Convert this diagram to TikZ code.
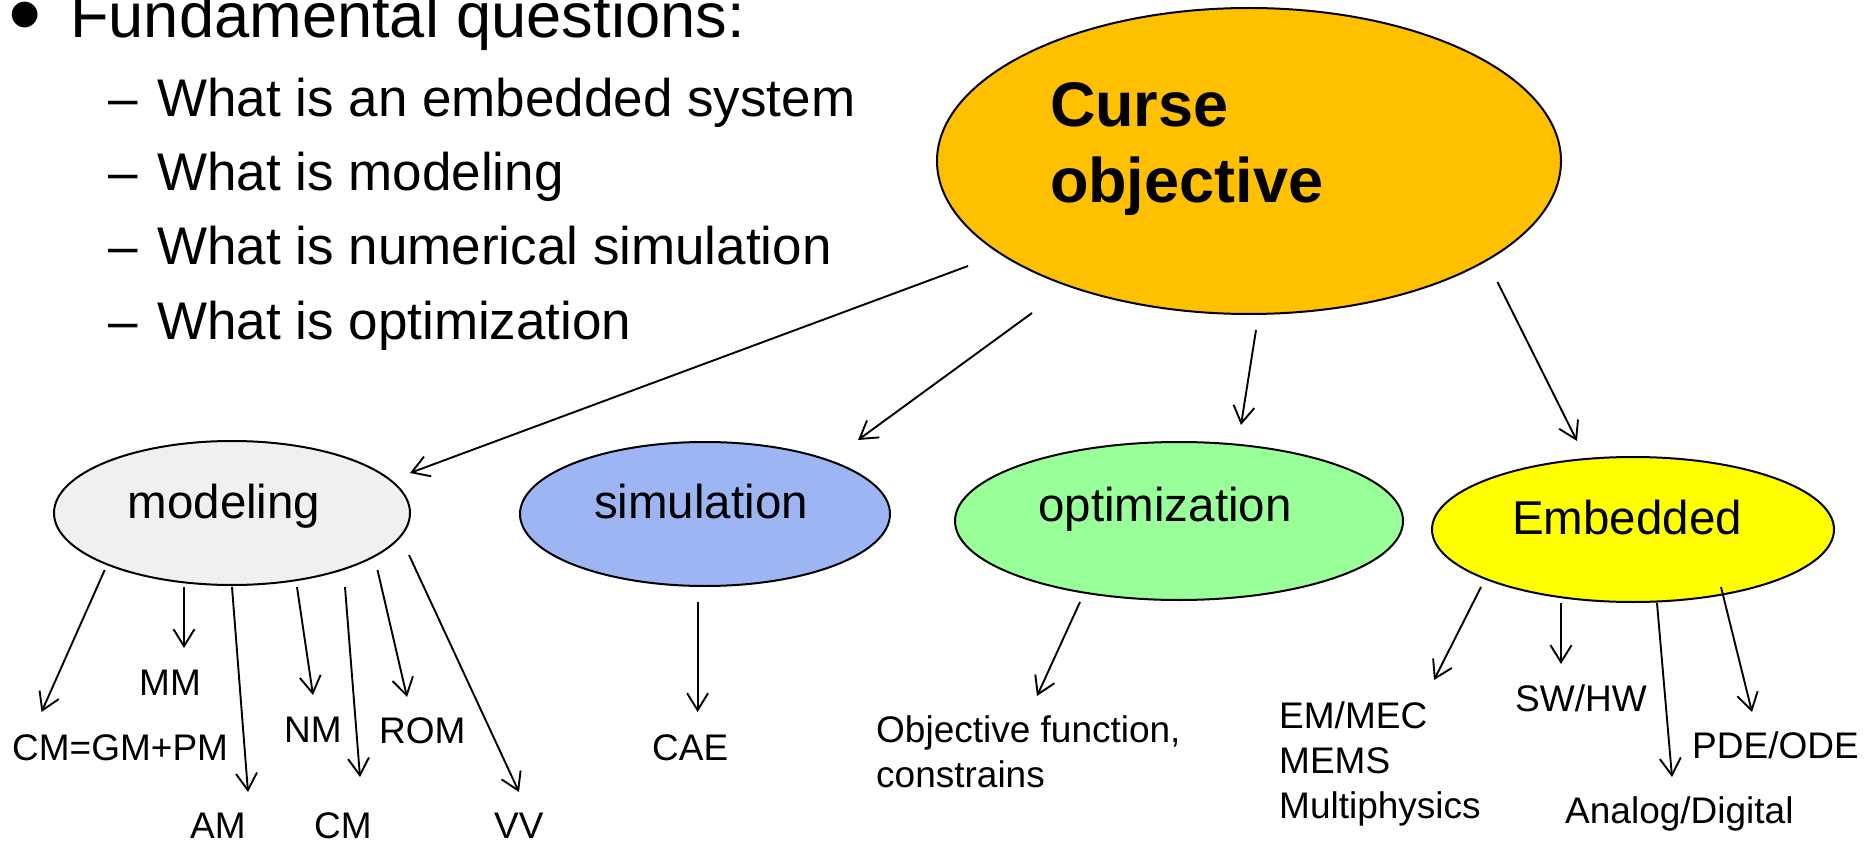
\documentclass[tikz,border=0pt]{standalone}
\usepackage{fontspec}
\setmainfont{Liberation Sans}
\usetikzlibrary{arrows.meta,shapes.geometric}
\definecolor{cOrange}{HTML}{FFC000}
\definecolor{cGray}{HTML}{F0F0F0}
\definecolor{cBlue}{HTML}{9DB5F2}
\definecolor{cGreen}{HTML}{99FF99}
\definecolor{cYellow}{HTML}{FFFF00}
\begin{document}
\begin{tikzpicture}[x=1pt,y=-1pt,
  ell/.style={ellipse, draw=black, line width=2pt, inner sep=0pt, outer sep=0pt,
              font=\fontsize{47.5}{57}\selectfont},
  lbl/.style={font=\fontsize{37}{45}\selectfont, inner sep=0pt, anchor=base west},
  bigtxt/.style={font=\fontsize{63.2}{76}\selectfont, inner sep=0pt, anchor=base west},
  subtxt/.style={font=\fontsize{53}{64}\selectfont, inner sep=0pt, anchor=base west},
  arr/.style={line width=1.9pt, -{Straight Barb[length=17pt,width=21pt]}}]
\useasboundingbox (0,0) rectangle (1866,842);

% bullet list
\node[bigtxt, font=\fontsize{95}{100}\selectfont] (bul) at (8,47) {•};
\node[bigtxt] (fq) at (70,38) {Fundamental questions:};
\node[subtxt] (d1) at (108,117) {–};
\node[subtxt] (q1) at (157,117) {What is an embedded system};
\node[subtxt] (d2) at (108,191) {–};
\node[subtxt] (q2) at (157,191) {What is modeling};
\node[subtxt] (d3) at (108,265) {–};
\node[subtxt] (q3) at (157,265) {What is numerical simulation};
\node[subtxt] (d4) at (108,340) {–};
\node[subtxt] (q4) at (157,340) {What is optimization};

% main ellipse
\node[ell, fill=cOrange, minimum width=624pt, minimum height=306pt,
      font=\bfseries\fontsize{63}{76}\selectfont,
      text height=53.2pt, text depth=121.2pt] (co) at (1249,161)
  {\makebox[398pt][l]{\begin{tabular}[t]{@{}l@{}}Curse\\objective\end{tabular}}};

% second level ellipses
\node[ell, fill=cGray, minimum width=356pt, minimum height=144pt,
      text height=25pt, text depth=15pt] (mod) at (232,513)
  {\makebox[0pt]{\hspace{-16pt}modeling}};
\node[ell, fill=cBlue, minimum width=370pt, minimum height=144pt,
      text height=24pt, text depth=16pt] (sim) at (705,514)
  {\makebox[0pt]{\hspace{-8pt}simulation}};
\node[ell, fill=cGreen, minimum width=448pt, minimum height=158pt,
      text height=20pt, text depth=20pt] (opt) at (1179,521)
  {\makebox[0pt]{\hspace{-28pt}optimization}};
\node[ell, fill=cYellow, minimum width=402pt, minimum height=145pt,
      text height=24.5pt, text depth=15.5pt] (emb) at (1633,529.5)
  {\makebox[0pt]{\hspace{-12pt}Embedded}};

% leaf labels
\node[lbl] (cgp) at (12,760) {CM=GM+PM};
\node[lbl] (mm) at (139,695) {MM};
\node[lbl] (am) at (190,838) {AM};
\node[lbl] (nm) at (284,742) {NM};
\node[lbl] (cm) at (314,838) {CM};
\node[lbl] (rom) at (379,743) {ROM};
\node[lbl] (vv) at (494,838) {VV};
\node[lbl] (cae) at (652,760) {CAE};
\node[lbl] (obj) at (876,742) {\begin{tabular}[t]{@{}l@{}}Objective function,\\constrains\end{tabular}};
\node[lbl] (emm) at (1279,728) {\begin{tabular}[t]{@{}l@{}}EM/MEC\\MEMS\\Multiphysics\end{tabular}};
\node[lbl] (swhw) at (1515,711) {SW/HW};
\node[lbl] (ad) at (1565,823) {Analog/Digital};
\node[lbl] (pde) at (1692,758) {PDE/ODE};

% connector end points
\coordinate (co-mod-s) at (968,266);   \coordinate (co-mod-e) at (410,473);
\coordinate (co-sim-s) at (1032,313);  \coordinate (co-sim-e) at (858,440);
\coordinate (co-opt-s) at (1256,330);  \coordinate (co-opt-e) at (1241,425);
\coordinate (co-emb-s) at (1497.5,282);\coordinate (co-emb-e) at (1577,441);

\coordinate (mod-cgp-s) at (104.7,570); \coordinate (mod-cgp-e) at (41.5,712);
\coordinate (mod-mm-s) at (184,587);    \coordinate (mod-mm-e) at (184,648);
\coordinate (mod-am-s) at (232,587);    \coordinate (mod-am-e) at (248,792);
\coordinate (mod-nm-s) at (297,587);    \coordinate (mod-nm-e) at (313,695);
\coordinate (mod-cm-s) at (345,587);    \coordinate (mod-cm-e) at (360,777);
\coordinate (mod-rom-s) at (377.5,570); \coordinate (mod-rom-e) at (407,697);
\coordinate (mod-vv-s) at (409,555);    \coordinate (mod-vv-e) at (519,792);

\coordinate (sim-cae-s) at (697.6,602); \coordinate (sim-cae-e) at (697.6,712);
\coordinate (opt-obj-s) at (1080,602);  \coordinate (opt-obj-e) at (1037,696);

\coordinate (emb-emm-s) at (1481,587);  \coordinate (emb-emm-e) at (1434,680);
\coordinate (emb-sw-s) at (1561,603);   \coordinate (emb-sw-e) at (1561,664);
\coordinate (emb-ad-s) at (1657,603);   \coordinate (emb-ad-e) at (1672,777);
\coordinate (emb-pde-s) at (1721,587);  \coordinate (emb-pde-e) at (1752,712);

% connectors
\foreach \c in {co-mod,co-sim,co-opt,co-emb,mod-cgp,mod-mm,mod-am,mod-nm,mod-cm,mod-rom,mod-vv,sim-cae,opt-obj,emb-emm,emb-sw,emb-ad,emb-pde}
  \draw[arr] (\c-s) -- (\c-e);
\end{tikzpicture}
\end{document}
